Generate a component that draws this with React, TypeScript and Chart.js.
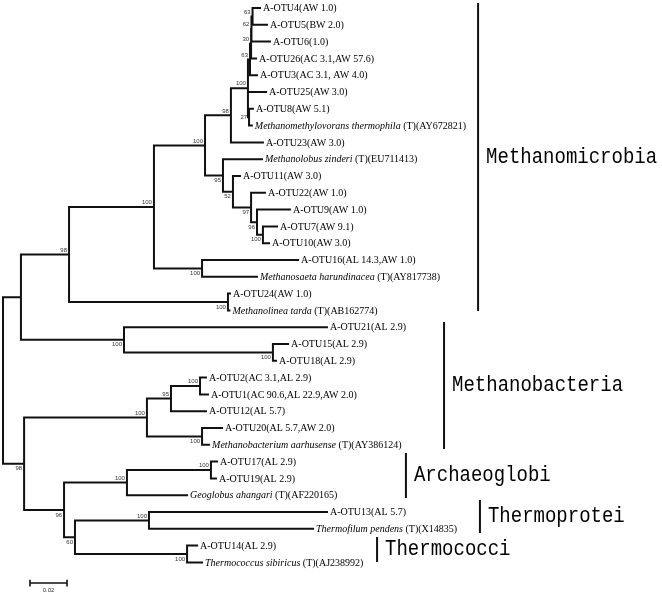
import React, { useEffect, useRef } from "react";
import { Chart, registerables } from "chart.js";

Chart.register(...registerables);

// ---------- leaves (top to bottom) ----------
const leafItalic: string[] = [
  "", "", "", "", "", "", "", "Methanomethylovorans thermophila", "",
  "Methanolobus zinderi", "", "", "", "", "", "", "Methanosaeta harundinacea", "",
  "Methanolinea tarda", "", "", "", "", "", "", "", "Methanobacterium aarhusense",
  "", "", "Geoglobus ahangari", "", "Thermofilum pendens", "", "Thermococcus sibiricus",
];
const leafText: string[] = [
  "A-OTU4(AW 1.0)", "A-OTU5(BW 2.0)", "A-OTU6(1.0)", "A-OTU26(AC 3.1,AW 57.6)",
  "A-OTU3(AC 3.1, AW 4.0)", "A-OTU25(AW 3.0)", "A-OTU8(AW 5.1)", " (T)(AY672821)",
  "A-OTU23(AW 3.0)", " (T)(EU711413)", "A-OTU11(AW 3.0)", "A-OTU22(AW 1.0)",
  "A-OTU9(AW 1.0)", "A-OTU7(AW 9.1)", "A-OTU10(AW 3.0)", "A-OTU16(AL 14.3,AW 1.0)",
  " (T)(AY817738)", "A-OTU24(AW 1.0)", " (T)(AB162774)", "A-OTU21(AL 2.9)",
  "A-OTU15(AL 2.9)", "A-OTU18(AL 2.9)", "A-OTU2(AC 3.1,AL 2.9)",
  "A-OTU1(AC 90.6,AL 22.9,AW 2.0)", "A-OTU12(AL 5.7)", "A-OTU20(AL 5.7,AW 2.0)",
  " (T)(AY386124)", "A-OTU17(AL 2.9)", "A-OTU19(AL 2.9)", " (T)(AF220165)",
  "A-OTU13(AL 5.7)", " (T)(X14835)", "A-OTU14(AL 2.9)", " (T)(AJ238992)",
];
// distance from root (substitutions per site) at each leaf tip
const leafDepths: number[] = [
  0.1389, 0.1427, 0.1443, 0.1368, 0.1373, 0.1422, 0.1351, 0.1345, 0.1405,
  0.1400, 0.1281, 0.1416, 0.1551, 0.1481, 0.1438, 0.1595, 0.1373, 0.1227,
  0.1224, 0.1751, 0.1541, 0.1476, 0.1097, 0.1108, 0.1097, 0.1184, 0.1114,
  0.1157, 0.1151, 0.0995, 0.1751, 0.1676, 0.1049, 0.1076,
];

// ---------- internal nodes ----------
const nodeChildren: string[][] = [
  ["n1", "n21"], ["n2", "n19"], ["n3", "n18"], ["n4", "n17"], ["n5", "n12"],
  ["n6", "L8"], ["n7", "L5", "n11"], ["n8", "L4"], ["n9", "L3"], ["n10", "L2"],
  ["L0", "L1"], ["L6", "L7"], ["L9", "n13"], ["L10", "n14"], ["L11", "n15"],
  ["L12", "n16"], ["L13", "L14"], ["L15", "L16"], ["L17", "L18"], ["L19", "n20"],
  ["L20", "L21"], ["n22", "n26"], ["n23", "n25"], ["n24", "L24"], ["L22", "L23"],
  ["L25", "L26"], ["n27", "n29"], ["n28", "L29"], ["L27", "L28"], ["n30", "n31"],
  ["L30", "L31"], ["L32", "L33"],
];
const nodeDepths: number[] = [
  0, 0.0097, 0.0357, 0.0816, 0.1092, 0.1232, 0.1324, 0.1335, 0.1341, 0.1343,
  0.1349, 0.1330, 0.1189, 0.1243, 0.1341, 0.1373, 0.1405, 0.1076, 0.1216, 0.0654,
  0.1459, 0.0114, 0.0778, 0.0908, 0.1065, 0.1076, 0.0330, 0.0670, 0.1124, 0.0389,
  0.0789, 0.0995,
];
const nodeSupport: (number | null)[] = [
  null, null, 98, 100, 100, 98, 100, 63, 30, 62, 63, 27, 95, 52, 97, 96, 100, 100,
  100, 100, 100, 98, 100, 95, 100, 100, 96, 100, 100, 60, 100, 100,
];
const nodeSupportSide: string[] = [
  "", "", "a", "a", "a", "a", "a", "a", "a", "a", "a", "m", "b", "b", "b", "b", "b",
  "b", "b", "b", "b", "b", "a", "a", "a", "b", "b", "a", "a", "b", "a", "b",
];

// ---------- clade annotations ----------
const cladeNames = ["Methanomicrobia", "Methanobacteria", "Archaeoglobi", "Thermoprotei", "Thermococci"];
const cladeDepth = [0.2568, 0.2384, 0.2178, 0.2578, 0.2022];
const cladeFrom = [-0.3, 18.69, 26.49, 29.29, 31.49];
const cladeTo = [18.04, 26.25, 29.17, 31.25, 32.98];

// ---------- scale bar ----------
const scaleBarStart = 0.0146;
const scaleBarLength = 0.02;
const scaleBarRow = 34.23;
const scaleBarLabel = "0.02";

// ---------- geometry helpers ----------
const nodeY: number[] = [];
function isLeaf(c: string) { return c[0] === "L"; }
function idx(c: string) { return parseInt(c.slice(1), 10); }
function yOf(c: string): number { return isLeaf(c) ? idx(c) : nodeYOf(idx(c)); }
function dOf(c: string): number { return isLeaf(c) ? leafDepths[idx(c)] : nodeDepths[idx(c)]; }
function nodeYOf(k: number): number {
  if (nodeY[k] !== undefined) return nodeY[k];
  const ch = nodeChildren[k];
  const v = (yOf(ch[0]) + yOf(ch[ch.length - 1])) / 2;
  nodeY[k] = v;
  return v;
}
nodeChildren.forEach((_, k) => nodeYOf(k));

function buildTree() {
  const pts: { x: number; y: number | null }[] = [];
  nodeChildren.forEach((ch, k) => {
    const d = nodeDepths[k];
    pts.push({ x: d, y: yOf(ch[0]) }, { x: d, y: yOf(ch[ch.length - 1]) }, { x: d, y: null });
    ch.forEach((c) => {
      pts.push({ x: d, y: yOf(c) }, { x: dOf(c), y: yOf(c) }, { x: dOf(c), y: null });
    });
  });
  return pts;
}
function buildClades() {
  const pts: { x: number; y: number | null }[] = [];
  cladeNames.forEach((_, i) => {
    pts.push({ x: cladeDepth[i], y: cladeFrom[i] }, { x: cladeDepth[i], y: cladeTo[i] }, { x: cladeDepth[i], y: null });
  });
  return pts;
}
function buildScaleBar() {
  const a = scaleBarStart, b = scaleBarStart + scaleBarLength, r = scaleBarRow;
  return [
    { x: a, y: r }, { x: b, y: r }, { x: b, y: null },
    { x: a, y: r - 0.2 }, { x: a, y: r + 0.2 }, { x: a, y: null },
    { x: b, y: r - 0.2 }, { x: b, y: r + 0.2 }, { x: b, y: null },
  ];
}

const labelPlugin = {
  id: "treeLabels",
  afterDatasetsDraw(chart: any) {
    const { ctx, scales } = chart;
    const xs = scales.x, ys = scales.y;
    ctx.save();
    ctx.textBaseline = "middle";
    ctx.textAlign = "left";
    ctx.fillStyle = "#000";
    leafText.forEach((t, i) => {
      let px = xs.getPixelForValue(leafDepths[i]) + 3;
      const py = ys.getPixelForValue(i) + 0.5;
      if (leafItalic[i]) {
        ctx.font = 'italic 10px "Liberation Serif"';
        ctx.fillText(leafItalic[i], px, py);
        px += ctx.measureText(leafItalic[i]).width;
      }
      ctx.font = '10px "Liberation Serif"';
      ctx.fillText(t, px, py);
    });
    ctx.font = '6px "Liberation Sans Narrow", "Liberation Sans"';
    ctx.fillStyle = "#333";
    ctx.textAlign = "right";
    nodeSupport.forEach((s, k) => {
      if (s == null) return;
      const side = nodeSupportSide[k];
      const off = side === "a" ? -4.5 : side === "b" ? 5 : 0;
      const px = xs.getPixelForValue(nodeDepths[k]) - 2;
      ctx.fillText(String(s), px, ys.getPixelForValue(nodeY[k]) + off);
    });
    ctx.textAlign = "center";
    ctx.fillText(
      scaleBarLabel,
      xs.getPixelForValue(scaleBarStart + scaleBarLength / 2),
      ys.getPixelForValue(scaleBarRow) + 7
    );
    ctx.fillStyle = "#000";
    ctx.textAlign = "left";
    ctx.font = '19px "Liberation Mono"';
    cladeNames.forEach((n, i) => {
      const px = xs.getPixelForValue(cladeDepth[i]) + 8;
      const py = ys.getPixelForValue((cladeFrom[i] + cladeTo[i]) / 2);
      ctx.save();
      ctx.translate(px, py);
      ctx.scale(1, 1.15);
      ctx.fillText(n, 0, 0);
      ctx.restore();
    });
    ctx.restore();
  },
};

export default function App() {
  const ref = useRef<HTMLCanvasElement | null>(null);
  useEffect(() => {
    if (!ref.current) return;
    const chart = new Chart(ref.current, {
      type: "line",
      data: {
        datasets: [
          {
            data: buildTree(),
            borderColor: "#111",
            borderWidth: 2,
            borderCapStyle: "square",
            pointRadius: 0,
            tension: 0,
            spanGaps: false,
          },
          {
            data: buildClades(),
            borderColor: "#111",
            borderWidth: 2,
            borderCapStyle: "butt",
            pointRadius: 0,
            tension: 0,
            spanGaps: false,
          },
          {
            data: buildScaleBar(),
            borderColor: "#111",
            borderWidth: 1.6,
            borderCapStyle: "butt",
            pointRadius: 0,
            tension: 0,
            spanGaps: false,
          },
        ],
      } as any,
      options: {
        animation: false,
        responsive: false,
        devicePixelRatio: 1,
        layout: { padding: 0 },
        plugins: { legend: { display: false }, tooltip: { enabled: false } },
        events: [],
        scales: {
          x: { type: "linear", display: false, min: -3 / 1850, max: 659 / 1850 },
          y: { type: "linear", display: false, reverse: true, min: -8 / 16.8, max: 587 / 16.8 },
        },
      } as any,
      plugins: [labelPlugin],
    });
    return () => chart.destroy();
  }, []);
  return (
    <div style={{ position: "absolute", left: 0, top: 0, width: 662, height: 595, background: "#fff" }}>
      <canvas ref={ref} width={662} height={595} />
    </div>
  );
}
